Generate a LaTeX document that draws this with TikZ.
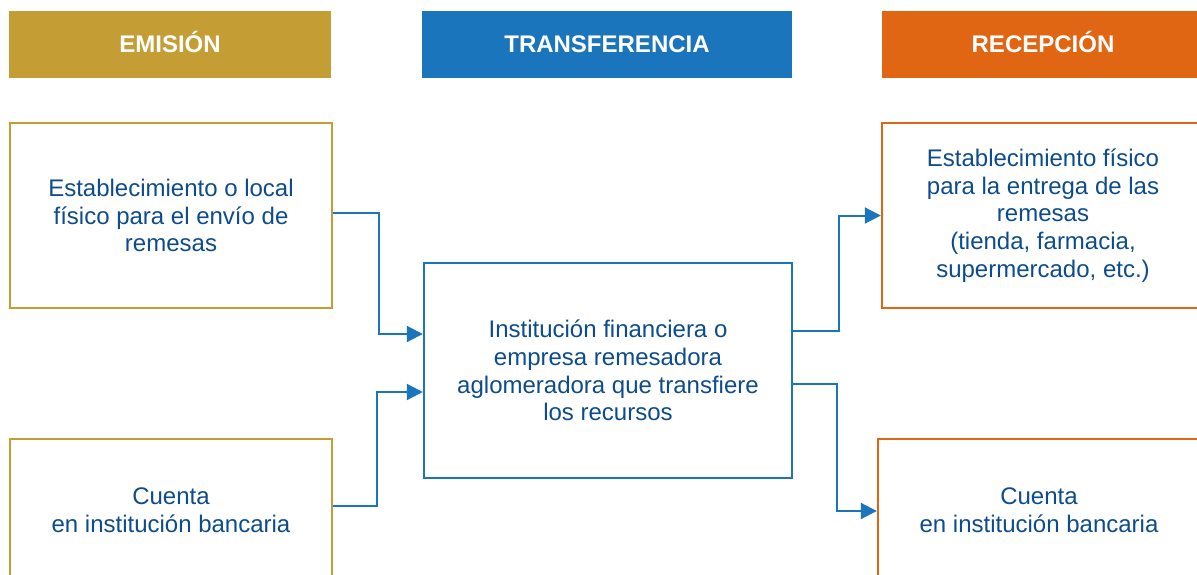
\documentclass[tikz,border=0pt]{standalone}
\usepackage{fontspec}
\setmainfont{Liberation Sans}
\usepackage{tikz}
\usetikzlibrary{arrows.meta}
\usepackage{xcolor}
\definecolor{oro}{RGB}{196,158,53}
\definecolor{azul}{RGB}{27,117,188}
\definecolor{naranja}{RGB}{224,102,20}
\definecolor{tinta}{RGB}{13,76,140}

\begin{document}
\begin{tikzpicture}[x=1pt,y=-1pt,
  hdr/.style={minimum height=67pt, inner sep=0pt, text height=17pt, text depth=0pt, text=white, font=\fontsize{24}{28}\selectfont\bfseries},
  caja/.style={draw, line width=2.4pt, align=center, inner sep=0pt, text=tinta, font=\fontsize{24}{27.6}\selectfont},
  conn/.style={draw=azul, line width=2pt, -{Triangle[length=16pt,width=16pt]}}]
\useasboundingbox (0,0) rectangle (1197,575);
\clip (0,0) rectangle (1197,575);

% Column headers
\node[hdr, fill=oro, minimum width=322pt] (hemision) at (170,44.5) {EMISIÓN};
\node[hdr, fill=azul, minimum width=370pt] (htransfer) at (607,44.5) {TRANSFERENCIA};
\node[hdr, fill=naranja, minimum width=322pt] (hrecepcion) at (1043,44.5) {RECEPCIÓN};

% Emission side
\node[caja, draw=oro, minimum width=322pt, minimum height=185pt] (emilocal) at (171,215.5)
  {Establecimiento o local\\físico para el envío de\\remesas};
\node[caja, draw=oro, minimum width=322pt, minimum height=142pt] (emicuenta) at (171,510)
  {Cuenta\\en institución bancaria};

% Transfer
\node[caja, draw=azul, minimum width=368pt, minimum height=215pt] (transfer) at (608,370.5)
  {Institución financiera o\\empresa remesadora\\aglomeradora que transfiere\\los recursos};

% Reception side
\node[caja, draw=naranja, minimum width=322pt, minimum height=185pt] (reclocal) at (1043,215.5)
  {Establecimiento físico\\para la entrega de las\\remesas\\(tienda, farmacia,\\supermercado, etc.)};
\node[caja, draw=naranja, minimum width=322pt, minimum height=142pt] (reccuenta) at (1039,510)
  {Cuenta\\en institución bancaria};

% Connectors
\draw[conn] ([yshift=2.5pt]emilocal.east) -- ++(46,0) |- ([yshift=36.5pt]transfer.west);
\draw[conn] ([yshift=4pt]emicuenta.east) -- ++(44,0) |- ([yshift=-21.5pt]transfer.west);
\draw[conn] ([yshift=39.5pt]transfer.east) -- ++(46,0) |- (reclocal.west);
\draw[conn] ([yshift=-13.5pt]transfer.east) -- ++(44,0) |- ([yshift=-1pt]reccuenta.west);
\end{tikzpicture}
\end{document}
